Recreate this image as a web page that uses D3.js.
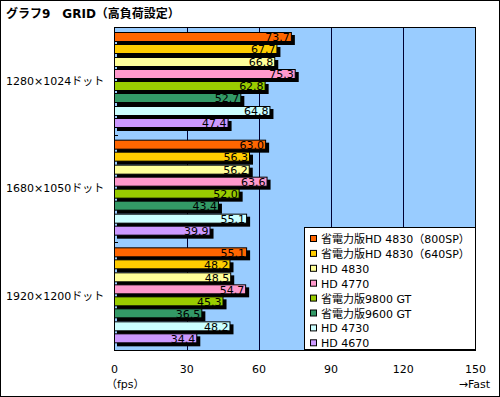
<!DOCTYPE html>
<html>
<head>
<meta charset="utf-8">
<script src="https://cdn.jsdelivr.net/npm/d3@7"></script>
<style>
  body { margin: 0; background: #fff; }
  svg { display: block; }
  text { font-family: "DejaVu Sans", "Noto Sans CJK JP", sans-serif; }
</style>
</head>
<body>
<svg></svg>
<script>
var groups = ["1280×1024ドット", "1680×1050ドット", "1920×1200ドット"]
var seriesNames = ["省電力版HD 4830（800SP）", "省電力版HD 4830（640SP）", "HD 4830", "HD 4770",
                   "省電力版9800 GT", "省電力版9600 GT", "HD 4730", "HD 4670"]
var seriesColors = ["#ff6600", "#ffcc00", "#ffff99", "#ff99cc", "#99cc00", "#339966", "#ccffff", "#cc99ff"]
var values1280 = [73.7, 67.7, 66.8, 75.3, 62.8, 52.7, 64.8, 47.4]
var values1680 = [63.0, 56.3, 56.2, 63.6, 52.0, 43.4, 55.1, 39.9]
var values1920 = [55.1, 48.2, 48.5, 54.7, 45.3, 36.5, 48.2, 34.4]
var xTicks = [0, 30, 60, 90, 120, 150]

var allValues = [values1280, values1680, values1920]

var dimensions = {
    width: 500,
    height: 397,
    margin: { top: 27, bottom: 47, left: 114, right: 25 }
}

var svg = d3.select("svg")
            .attr("width", dimensions.width)
            .attr("height", dimensions.height)

// outer frame
svg.append("rect")
   .attr("x", 0.5).attr("y", 0.5)
   .attr("width", dimensions.width - 1).attr("height", dimensions.height - 1)
   .attr("fill", "white").attr("stroke", "black")

svg.append("text")
   .attr("x", 6).attr("y", 18)
   .attr("font-size", 12).attr("font-weight", "bold")
   .text("グラフ9　GRID（高負荷設定）")

var plotLeft = dimensions.margin.left
var plotRight = dimensions.width - dimensions.margin.right
var plotTop = dimensions.margin.top
var plotBottom = dimensions.height - dimensions.margin.bottom

var xScale = d3.scaleLinear().domain([0, 150]).range([plotLeft + 0.5, plotRight + 0.5])
var groupScale = d3.scaleBand().domain(groups).range([plotTop, plotBottom])
var barScale = d3.scaleBand().domain(d3.range(seriesNames.length))
                 .range([5, groupScale.bandwidth() - 6.5]).paddingInner(0.17)

// plot background
svg.append("rect")
   .attr("x", plotLeft).attr("y", plotTop)
   .attr("width", plotRight - plotLeft).attr("height", plotBottom - plotTop)
   .attr("fill", "#99ccff")

// grid lines
svg.append("g")
   .selectAll("line")
   .data(xTicks.slice(1, -1))
   .enter()
   .append("line")
   .attr("x1", d => Math.round(xScale(d)) + 0.5).attr("x2", d => Math.round(xScale(d)) + 0.5)
   .attr("y1", plotTop).attr("y2", plotBottom)
   .attr("stroke", "#000033").attr("stroke-width", 1)

// group separators on the axis
svg.append("g")
   .selectAll("line")
   .data(groups.slice(1))
   .enter()
   .append("line")
   .attr("x1", plotLeft).attr("x2", plotLeft + 4)
   .attr("y1", d => Math.round(groupScale(d)) + 0.5).attr("y2", d => Math.round(groupScale(d)) + 0.5)
   .attr("stroke", "black")

var groupG = svg.append("g")
                .selectAll(".group")
                .data(groups)
                .enter()
                .append("g")
                .attr("class", "group")
                .attr("transform", d => "translate(0," + groupScale(d) + ")")

groupG.append("text")
      .attr("x", 6)
      .attr("y", groupScale.bandwidth() / 2 + 4)
      .attr("font-size", 11)
      .text(d => d)

var bars = groupG.selectAll(".bar")
                 .data((d, gi) => allValues[gi].map((v, si) => ({ v: v, si: si })))
                 .enter()
                 .append("g")
                 .attr("class", "bar")

// shadow
bars.append("rect")
    .attr("x", plotLeft + 3)
    .attr("y", d => Math.round(barScale(d.si)) + 3)
    .attr("width", d => xScale(d.v) - plotLeft)
    .attr("height", Math.round(barScale.bandwidth()))
    .attr("fill", "black")

bars.append("rect")
    .attr("x", plotLeft + 0.5)
    .attr("y", d => Math.round(barScale(d.si)) + 0.5)
    .attr("width", d => xScale(d.v) - plotLeft - 1)
    .attr("height", Math.round(barScale.bandwidth()) - 1)
    .attr("fill", d => seriesColors[d.si])
    .attr("stroke", "black")

bars.append("text")
    .attr("x", d => xScale(d.v) - 2)
    .attr("y", d => Math.round(barScale(d.si)) + barScale.bandwidth() - 1)
    .attr("text-anchor", "end")
    .attr("font-size", 11)
    .text(d => d.v.toFixed(1))

// plot frame
svg.append("rect")
   .attr("x", plotLeft + 0.5).attr("y", plotTop + 0.5)
   .attr("width", plotRight - plotLeft).attr("height", plotBottom - plotTop)
   .attr("fill", "none").attr("stroke", "black")

// x labels
svg.append("g")
   .selectAll("text")
   .data(xTicks)
   .enter()
   .append("text")
   .attr("x", d => xScale(d))
   .attr("y", plotBottom + 23)
   .attr("text-anchor", "middle")
   .attr("font-size", 11)
   .text(d => d)

svg.append("text")
   .attr("x", plotLeft - 8).attr("y", plotBottom + 38)
   .attr("font-size", 11)
   .text("（fps）")

svg.append("text")
   .attr("x", plotRight + 15).attr("y", plotBottom + 38)
   .attr("text-anchor", "end")
   .attr("font-size", 11)
   .text("→Fast")

// legend
var legend = svg.append("g").attr("transform", "translate(304,227)")
legend.append("rect")
      .attr("x", 0.5).attr("y", 0.5)
      .attr("width", 171).attr("height", 122)
      .attr("fill", "white").attr("stroke", "black")

var legendItems = legend.selectAll(".item")
                        .data(seriesNames)
                        .enter()
                        .append("g")
                        .attr("class", "item")
                        .attr("transform", (d, i) => "translate(0," + (8 + i * 14.9) + ")")

legendItems.append("rect")
           .attr("x", 6.5).attr("y", 0.5)
           .attr("width", 6).attr("height", 6)
           .attr("fill", (d, i) => seriesColors[i])
           .attr("stroke", "black")

legendItems.append("text")
           .attr("x", 17).attr("y", 8)
           .attr("font-size", 11)
           .text(d => d)
</script>
</body>
</html>
